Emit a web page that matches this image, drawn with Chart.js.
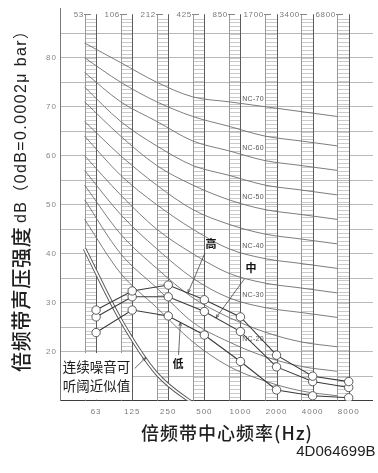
<!DOCTYPE html>
<html><head><meta charset="utf-8">
<script src="https://cdn.jsdelivr.net/npm/chart.js@4.4.0/dist/chart.umd.min.js"></script>
<style>html,body{margin:0;padding:0;background:#fff;}#wrap{width:378px;height:473px;position:relative;}</style>
</head><body><div id="wrap"><canvas id="c"></canvas></div>
<script>
// ---- data ----
const bands = ['63','125','250','500','1000','2000','4000','8000'];
const edgeLabels = ['53','106','212','425','850','1700','3400','6800'];
const yTickLabels = [20,30,40,50,60,70,80];
const ncNames = ['NC-15','NC-20','NC-25','NC-30','NC-35','NC-40','NC-45','NC-50','NC-55','NC-60','NC-65','NC-70'];
const nc15 = [47,36,29,22,17,14,12,11];
const nc20 = [51,40,33,26,22,19,17,16];
const nc25 = [54,44,37,31,27,24,22,21];
const nc30 = [57,48,41,35,31,29,28,27];
const nc35 = [60,52,45,40,36,34,33,32];
const nc40 = [64,56,50,45,41,39,38,37];
const nc45 = [67,60,54,49,46,44,43,42];
const nc50 = [71,64,58,54,51,49,48,47];
const nc55 = [74,67,62,58,56,54,53,52];
const nc60 = [77,71,67,63,61,59,58,57];
const nc65 = [80,75,71,68,66,64,63,62];
const nc70 = [83,79,75,72,71,70,69,68];
const labeledNC = ['NC-20','NC-30','NC-40','NC-50','NC-60','NC-70'];
const highSpeed = [28.5,32.4,33.6,30.6,27.1,19.3,15.0,13.9];
const midSpeed  = [27.1,31.2,31.2,28.2,24.1,16.9,13.9,12.7];
const lowSpeed  = [23.9,28.5,27.3,23.4,18.0,12.2,11.0,10.6];
const threshold = [41,26.5,15.5,9.5,5];
const speedNames = ['高','中','低'];
const thresholdText = ['连续噪音可','听阈近似值'];
const xTitle = '倍频带中心频率(Hz)';
const yTitleMain = '倍频带声压强度';
const yTitleUnit = 'dB（0dB=0.0002μ bar）';
const figCode = '4D064699B';

// ---- chart ----
const STRIP = 0.319; // strip width in category units
const ncSeries = [nc15,nc20,nc25,nc30,nc35,nc40,nc45,nc50,nc55,nc60,nc65,nc70];
const speedSeries = [highSpeed, midSpeed, lowSpeed];

const datasets = [];
speedSeries.forEach((vals,k)=>datasets.push({
  label: speedNames[k], kind:'measured',
  data: vals.map((v,i)=>({x:i,y:v})),
  borderColor:'#3a3a3a', borderWidth:1.1, tension:0,
  pointRadius:4.2, pointBackgroundColor:'#fff', pointBorderColor:'#4a4a4a', pointBorderWidth:0.9,
  order:0
}));
datasets.push({label:'thr-outer', kind:'thr', data: threshold.map((v,i)=>({x:i-STRIP,y:v})),
  borderColor:'#555', borderWidth:3.6, pointRadius:0, cubicInterpolationMode:'monotone', order:2});
datasets.push({label:'thr-inner', kind:'thr', data: threshold.map((v,i)=>({x:i-STRIP,y:v})),
  borderColor:'#fff', borderWidth:1.8, pointRadius:0, cubicInterpolationMode:'monotone', order:1});
ncSeries.forEach((vals,k)=>datasets.push({
  label: ncNames[k], kind:'nc',
  data: vals.map((v,i)=>({x:i-STRIP,y:v})),
  borderColor:'#6e6e6e', borderWidth:0.9, pointRadius:0, cubicInterpolationMode:'monotone', order:3
}));

function interp(vals, t){
  const i = Math.floor(t), f = t - i;
  return vals[i] + (vals[Math.min(i+1, vals.length-1)] - vals[i]) * f;
}
function arrow(ctx, x1,y1,x2,y2){
  ctx.beginPath(); ctx.moveTo(x1,y1); ctx.lineTo(x2,y2); ctx.stroke();
  const ang = Math.atan2(y2-y1, x2-x1), L = 4;
  ctx.beginPath();
  ctx.moveTo(x2 - L*Math.cos(ang-0.35), y2 - L*Math.sin(ang-0.35));
  ctx.lineTo(x2,y2);
  ctx.lineTo(x2 - L*Math.cos(ang+0.35), y2 - L*Math.sin(ang+0.35));
  ctx.stroke();
}
function px(v){ return Math.round(v)+0.5; }

const decor = {
  id:'decor',
  beforeDraw(chart){ chart.ctx.letterSpacing='1px'; chart.$ncLab=false; },
  beforeDatasetsDraw(chart){
    const {ctx, chartArea:a, scales:{x:xs, y:ys}} = chart;
    ctx.save();
    ctx.letterSpacing='0px';
    const top = a.top + 5.5;
    bands.forEach((b,i)=>{
      const xl = px(xs.getPixelForValue(i-STRIP));
      const xc = px(xs.getPixelForValue(i));
      ctx.strokeStyle='#cacaca'; ctx.lineWidth=1;
      ctx.beginPath();
      for (let y = a.bottom - 3.9; y > top + 2; y -= 3.9){ const yy = px(y); ctx.moveTo(xl,yy); ctx.lineTo(xc,yy); }
      ctx.stroke();
      ctx.strokeStyle='#9a9a9a';
      ctx.beginPath(); ctx.moveTo(xl, top); ctx.lineTo(xl, a.bottom); ctx.stroke();
      ctx.strokeStyle='#5c5c5c';
      ctx.beginPath(); ctx.moveTo(xc, top); ctx.lineTo(xc, a.bottom); ctx.stroke();
      ctx.strokeStyle='#888';
      ctx.beginPath(); ctx.moveTo(xl-1.5, px(top)); ctx.lineTo(xl+5.5, px(top)); ctx.stroke();
      ctx.fillStyle='#7a7a7a'; ctx.font='8px "Liberation Sans"';
      ctx.letterSpacing='0.7px';
      ctx.textAlign='right'; ctx.textBaseline='middle';
      ctx.fillText(edgeLabels[i], xl-1.5, top+0.5);
      ctx.letterSpacing='0px';
    });
    // label box of threshold curve
    const x125 = px(xs.getPixelForValue(1));
    const y20 = px(ys.getPixelForValue(20));
    ctx.fillStyle='#fff';
    ctx.fillRect(a.left+1, y20+0.5, x125 - a.left - 1.5, a.bottom - y20 - 1.5);
    ctx.strokeStyle='#5c5c5c';
    ctx.beginPath(); ctx.moveTo(x125, y20); ctx.lineTo(x125, a.bottom); ctx.stroke();
    ctx.restore();
  },
  beforeDatasetDraw(chart, args){
    const ds = chart.data.datasets[args.index];
    if (ds.kind === 'nc' || chart.$ncLab) return;
    chart.$ncLab = true;
    const {ctx, scales:{x:xs, y:ys}} = chart;
    ctx.save();
    ctx.letterSpacing='0.3px';
    ctx.font='7px "Liberation Sans"';
    ctx.textAlign='center'; ctx.textBaseline='middle';
    labeledNC.forEach(name=>{
      const vals = ncSeries[ncNames.indexOf(name)];
      const cx = xs.getPixelForValue(4.35);
      const cy = ys.getPixelForValue(vals[4]) - 3;
      const w = ctx.measureText(name).width + 2;
      ctx.fillStyle='#fff'; ctx.fillRect(cx - w/2, cy - 4, w, 8);
      ctx.fillStyle='#555'; ctx.fillText(name, cx, cy);
    });
    ctx.restore();
  },
  afterDatasetsDraw(chart){
    const {ctx, chartArea:a, scales:{x:xs, y:ys}} = chart;
    ctx.save();
    ctx.letterSpacing='0px';
    ctx.strokeStyle='#444'; ctx.lineWidth=0.8;
    ctx.fillStyle='#111';
    ctx.font='bold 11px "Noto Sans CJK SC"';
    ctx.textAlign='center'; ctx.textBaseline='middle';
    const specs = [
      {vals:highSpeed, t:2.544, lab:[23,-49], from:[17,-40]},
      {vals:midSpeed,  t:3.32,  lab:[35,-50], from:[28.5,-39]},
      {vals:lowSpeed,  t:2.335, lab:[-2.3,41], from:[-1.8,32.6]}
    ];
    specs.forEach((s,k)=>{
      const tx = xs.getPixelForValue(s.t), ty = ys.getPixelForValue(interp(s.vals, s.t));
      arrow(ctx, tx+s.from[0], ty+s.from[1], tx, ty);
      ctx.fillText(speedNames[k], tx+s.lab[0], ty+s.lab[1]);
    });
    // threshold label
    const x125 = xs.getPixelForValue(1);
    const y20 = ys.getPixelForValue(20);
    ctx.font='13.5px "Noto Sans CJK SC"';
    ctx.fillStyle='#1a1a1a';
    const cx = (a.left + x125)/2 + 0.5;
    ctx.fillText(thresholdText[0], cx, y20 + 15.5);
    ctx.fillText(thresholdText[1], cx, y20 + 34.5);
    const tX = 1.38;
    const tY = ys.getPixelForValue(interp(threshold, tX + STRIP));
    arrow(ctx, x125 + 2.5, y20 + 16.8, xs.getPixelForValue(tX), tY);
    ctx.restore();
  },
  afterDraw(chart){
    const ctx = chart.ctx;
    ctx.save();
    ctx.fillStyle='#1e1e1e';
    ctx.letterSpacing='1px';
    ctx.font='500 18px "Noto Sans CJK SC"';
    ctx.textAlign='center'; ctx.textBaseline='middle';
    ctx.fillText(xTitle, 227, 433.5);
    ctx.letterSpacing='0px';
    ctx.font='15px "Liberation Sans"';
    ctx.textAlign='right';
    ctx.fillText(figCode, 375.5, 452);
    // y title rotated
    ctx.translate(21.5, 372);
    ctx.rotate(-Math.PI/2);
    ctx.textAlign='left';
    ctx.font='500 20px "Noto Sans CJK SC"';
    ctx.letterSpacing='0.8px';
    ctx.fillText(yTitleMain, 0, 0);
    ctx.font='16px "Liberation Sans", "Noto Sans CJK SC"';
    ctx.letterSpacing='0px';
    const w = ctx.measureText(yTitleUnit).width;
    const sp = Math.max(0, Math.min(1.5, (200 - w) / (yTitleUnit.length - 1)));
    ctx.letterSpacing = sp.toFixed(2) + 'px';
    ctx.fillText(yTitleUnit, 149, 0);
    ctx.restore();
  }
};

new Chart(document.getElementById('c'), {
  type:'line',
  data:{datasets},
  options:{
    responsive:true, maintainAspectRatio:false, animation:false,
    layout:{padding:{top:8.7, right:0, bottom:0, left:0}},
    plugins:{legend:{display:false}, tooltip:{enabled:false}},
    scales:{
      x:{
        type:'linear', min:-1, max:7.67,
        afterBuildTicks:(s)=>{ s.ticks = bands.map((b,i)=>({value:i})); },
        afterFit:(s)=>{ s.height = 72.3; },
        grid:{display:false, drawTicks:false},
        border:{display:true, color:'#3c3c3c', width:1},
        ticks:{autoSkip:false, maxRotation:0, padding:6.5, color:'#7a7a7a',
          font:{family:'Liberation Sans', size:8},
          callback:(v,i)=>bands[i]}
      },
      y:{
        type:'linear', min:10, max:90,
        afterFit:(s)=>{ s.width = 60; },
        grid:{drawTicks:false, lineWidth:1,
          color:(c)=> (c.tick && (c.tick.value===90 || c.tick.value===10)) ? 'rgba(0,0,0,0)' : '#b9b9b9'},
        border:{display:true, color:'#7a7a7a', width:1},
        ticks:{stepSize:5, autoSkip:false, padding:3, color:'#858585',
          font:{family:'Liberation Sans', size:8},
          callback:(v)=> yTickLabels.includes(v) ? String(v) : ''}
      }
    }
  },
  plugins:[decor]
});
</script>
</body></html>
